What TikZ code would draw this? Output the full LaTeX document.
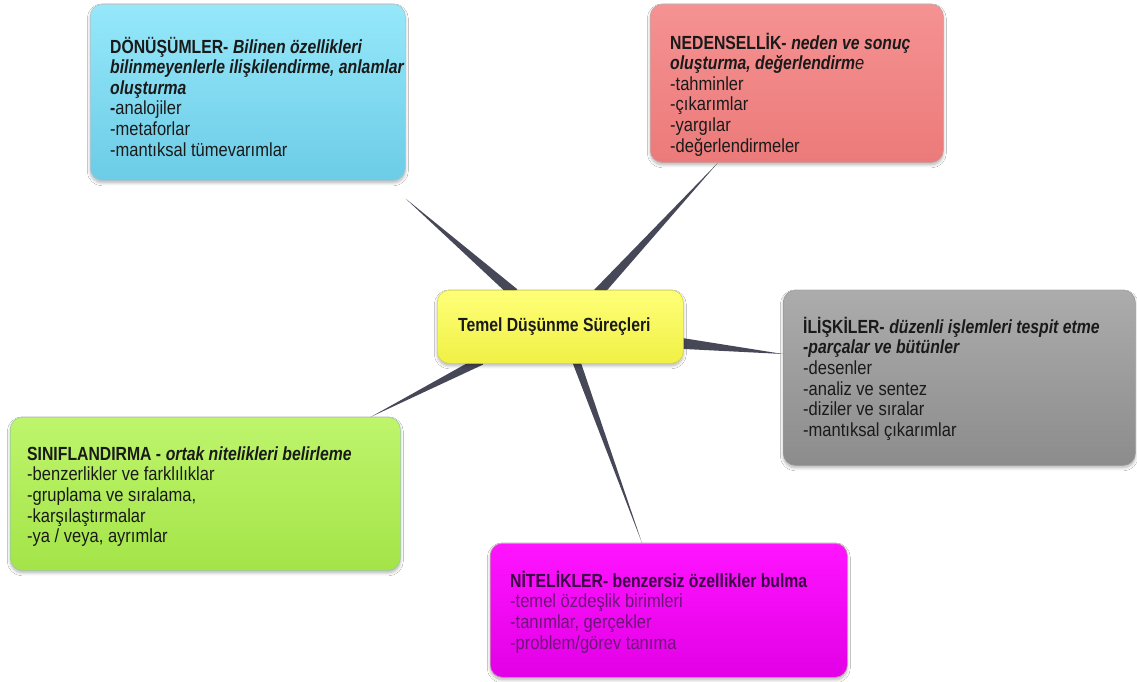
\documentclass[tikz,border=0pt]{standalone}
\usepackage{fontspec}
\setmainfont{Liberation Sans}[FakeStretch=0.87,
  BoldFeatures={FakeStretch=0.83}, BoldItalicFeatures={FakeStretch=0.83}]
\usetikzlibrary{calc,shadows.blur}

\definecolor{spikecol}{HTML}{464857}
\definecolor{txtcol}{HTML}{1A1A1A}

\pgfdeclarelayer{background}
\pgfsetlayers{background,main}

% tapered connector: wide base at #1, sharp tip at #2, half width #3
\newcommand\spike[3]{%
  \fill[spikecol] ($(#1)!#3!90:(#2)$) -- (#2) -- ($(#1)!#3!-90:(#2)$) -- cycle;}

\tikzset{
  card/.style={rectangle, rounded corners=12pt, inner sep=0pt, anchor=north west,
    line width=0.6pt,
    blur shadow={shadow xshift=0pt, shadow yshift=-2.5pt, shadow blur radius=3pt,
                 shadow opacity=30, shadow blur steps=6}},
  cardtext/.style={anchor=north west, align=left, inner sep=0pt, text=txtcol,
    font=\fontsize{19}{20.6}\selectfont},
}
\newcommand\hb[1]{\textbf{\textit{#1}}}
\newcommand\fst{\rule{0pt}{18pt}}

\begin{document}
\begin{tikzpicture}[x=1pt,y=-1pt]
\useasboundingbox (0,0) rectangle (1137,682);

% central topic
\node[card, minimum width=246, minimum height=73, draw={rgb,255:red,215;green,215;blue,70},
  top color={rgb,255:red,255;green,255;blue,120}, bottom color={rgb,255:red,240;green,240;blue,70},
  font=\fontsize{19}{20.6}\selectfont\bfseries, text=txtcol] (core) at (437,290)
  {\hspace*{-12pt}Temel Düşünme Süreçleri};

% surrounding cards
\node[card, minimum width=315, minimum height=176, draw=cyan!50!black!40,
  top color={rgb,255:red,150;green,232;blue,250}, bottom color={rgb,255:red,108;green,204;blue,230}]
  (donusum) at (90,4) {};
\node[card, minimum width=293, minimum height=158, draw=red!50!black!40,
  top color={rgb,255:red,245;green,146;blue,146}, bottom color={rgb,255:red,236;green,122;blue,122}]
  (neden) at (650,4) {};
\node[card, minimum width=352, minimum height=175, draw=black!40,
  top color={rgb,255:red,172;green,172;blue,172}, bottom color={rgb,255:red,140;green,140;blue,140}]
  (iliski) at (783,290) {};
\node[card, minimum width=390, minimum height=153, draw=green!50!black!40,
  top color={rgb,255:red,190;green,245;blue,108}, bottom color={rgb,255:red,164;green,228;blue,72}]
  (sinif) at (10,417) {};
\node[card, minimum width=357, minimum height=134, draw=magenta!50!black!50,
  top color={rgb,255:red,255;green,20;blue,255}, bottom color={rgb,255:red,226;green,0;blue,230}]
  (nitelik) at (490,543) {};

% connector end points
\coordinate (bDon) at ($(core.north west)+(77,3)$);
\coordinate (bNed) at ($(core.north west)+(161,3)$);
\coordinate (bIli) at ($(core.east)+(-3,16.5)$);
\coordinate (bSin) at ($(core.south west)+(44,-3)$);
\coordinate (bNit) at ($(core.south west)+(139,-3)$);
\coordinate (tDon) at ($(donusum.south east)+(0,18)$);
\coordinate (tNed) at ($(neden.south west)+(68,0)$);
\coordinate (tIli) at ($(iliski.north west)+(0,64)$);
\coordinate (tSin) at ($(sinif.north east)+(-30,0)$);
\coordinate (tNit) at ($(nitelik.north west)+(152,0)$);

% white page and tapered connectors, behind the cards
\begin{pgfonlayer}{background}
\fill[white] (0,0) rectangle (1137,682);
\spike{bDon}{tDon}{5pt}
\spike{bNed}{tNed}{5pt}
\spike{bIli}{tIli}{5.5pt}
\spike{bSin}{tSin}{4.5pt}
\spike{bNit}{tNit}{4pt}
\end{pgfonlayer}

% card texts
\node[cardtext] (donusumT) at ($(donusum.north west)+(20,31)$) {%
  \fst\textbf{DÖNÜŞÜMLER-} \hb{Bilinen özellikleri}\\
  \hb{bilinmeyenlerle ilişkilendirme, anlamlar}\\
  \hb{oluşturma}\\
  \textbf{-}analojiler\\
  -metaforlar\\
  -mantıksal tümevarımlar};

\node[cardtext] (nedenT) at ($(neden.north west)+(20,27)$) {%
  \fst\textbf{NEDENSELLİK-} \hb{neden ve sonuç}\\
  \hb{oluşturma, değerlendirm}\textit{e}\\
  -tahminler\\
  -çıkarımlar\\
  -yargılar\\
  -değerlendirmeler};

\node[cardtext] (iliskiT) at ($(iliski.north west)+(20,25)$) {%
  \fst\textbf{İLİŞKİLER-} \hb{düzenli işlemleri tespit etme}\\
  \hb{-parçalar ve bütünler}\\
  -desenler\\
  -analiz ve sentez\\
  -diziler ve sıralar\\
  -mantıksal çıkarımlar};

\node[cardtext] (sinifT) at ($(sinif.north west)+(17,25)$) {%
  \fst\textbf{SINIFLANDIRMA -} \hb{ortak nitelikleri belirleme}\\
  -benzerlikler ve farklılıklar\\
  -gruplama ve sıralama,\\
  -karşılaştırmalar\\
  -ya / veya, ayrımlar};

\node[cardtext, text={rgb,255:red,110;green,20;blue,120}] (nitelikT) at ($(nitelik.north west)+(20,26)$) {%
  \fst\textcolor[RGB]{60,0,70}{\textbf{NİTELİKLER- benzersiz özellikler bulma}}\\
  -temel özdeşlik birimleri\\
  -tanımlar, gerçekler\\
  -problem/görev tanıma};
\end{tikzpicture}
\end{document}
